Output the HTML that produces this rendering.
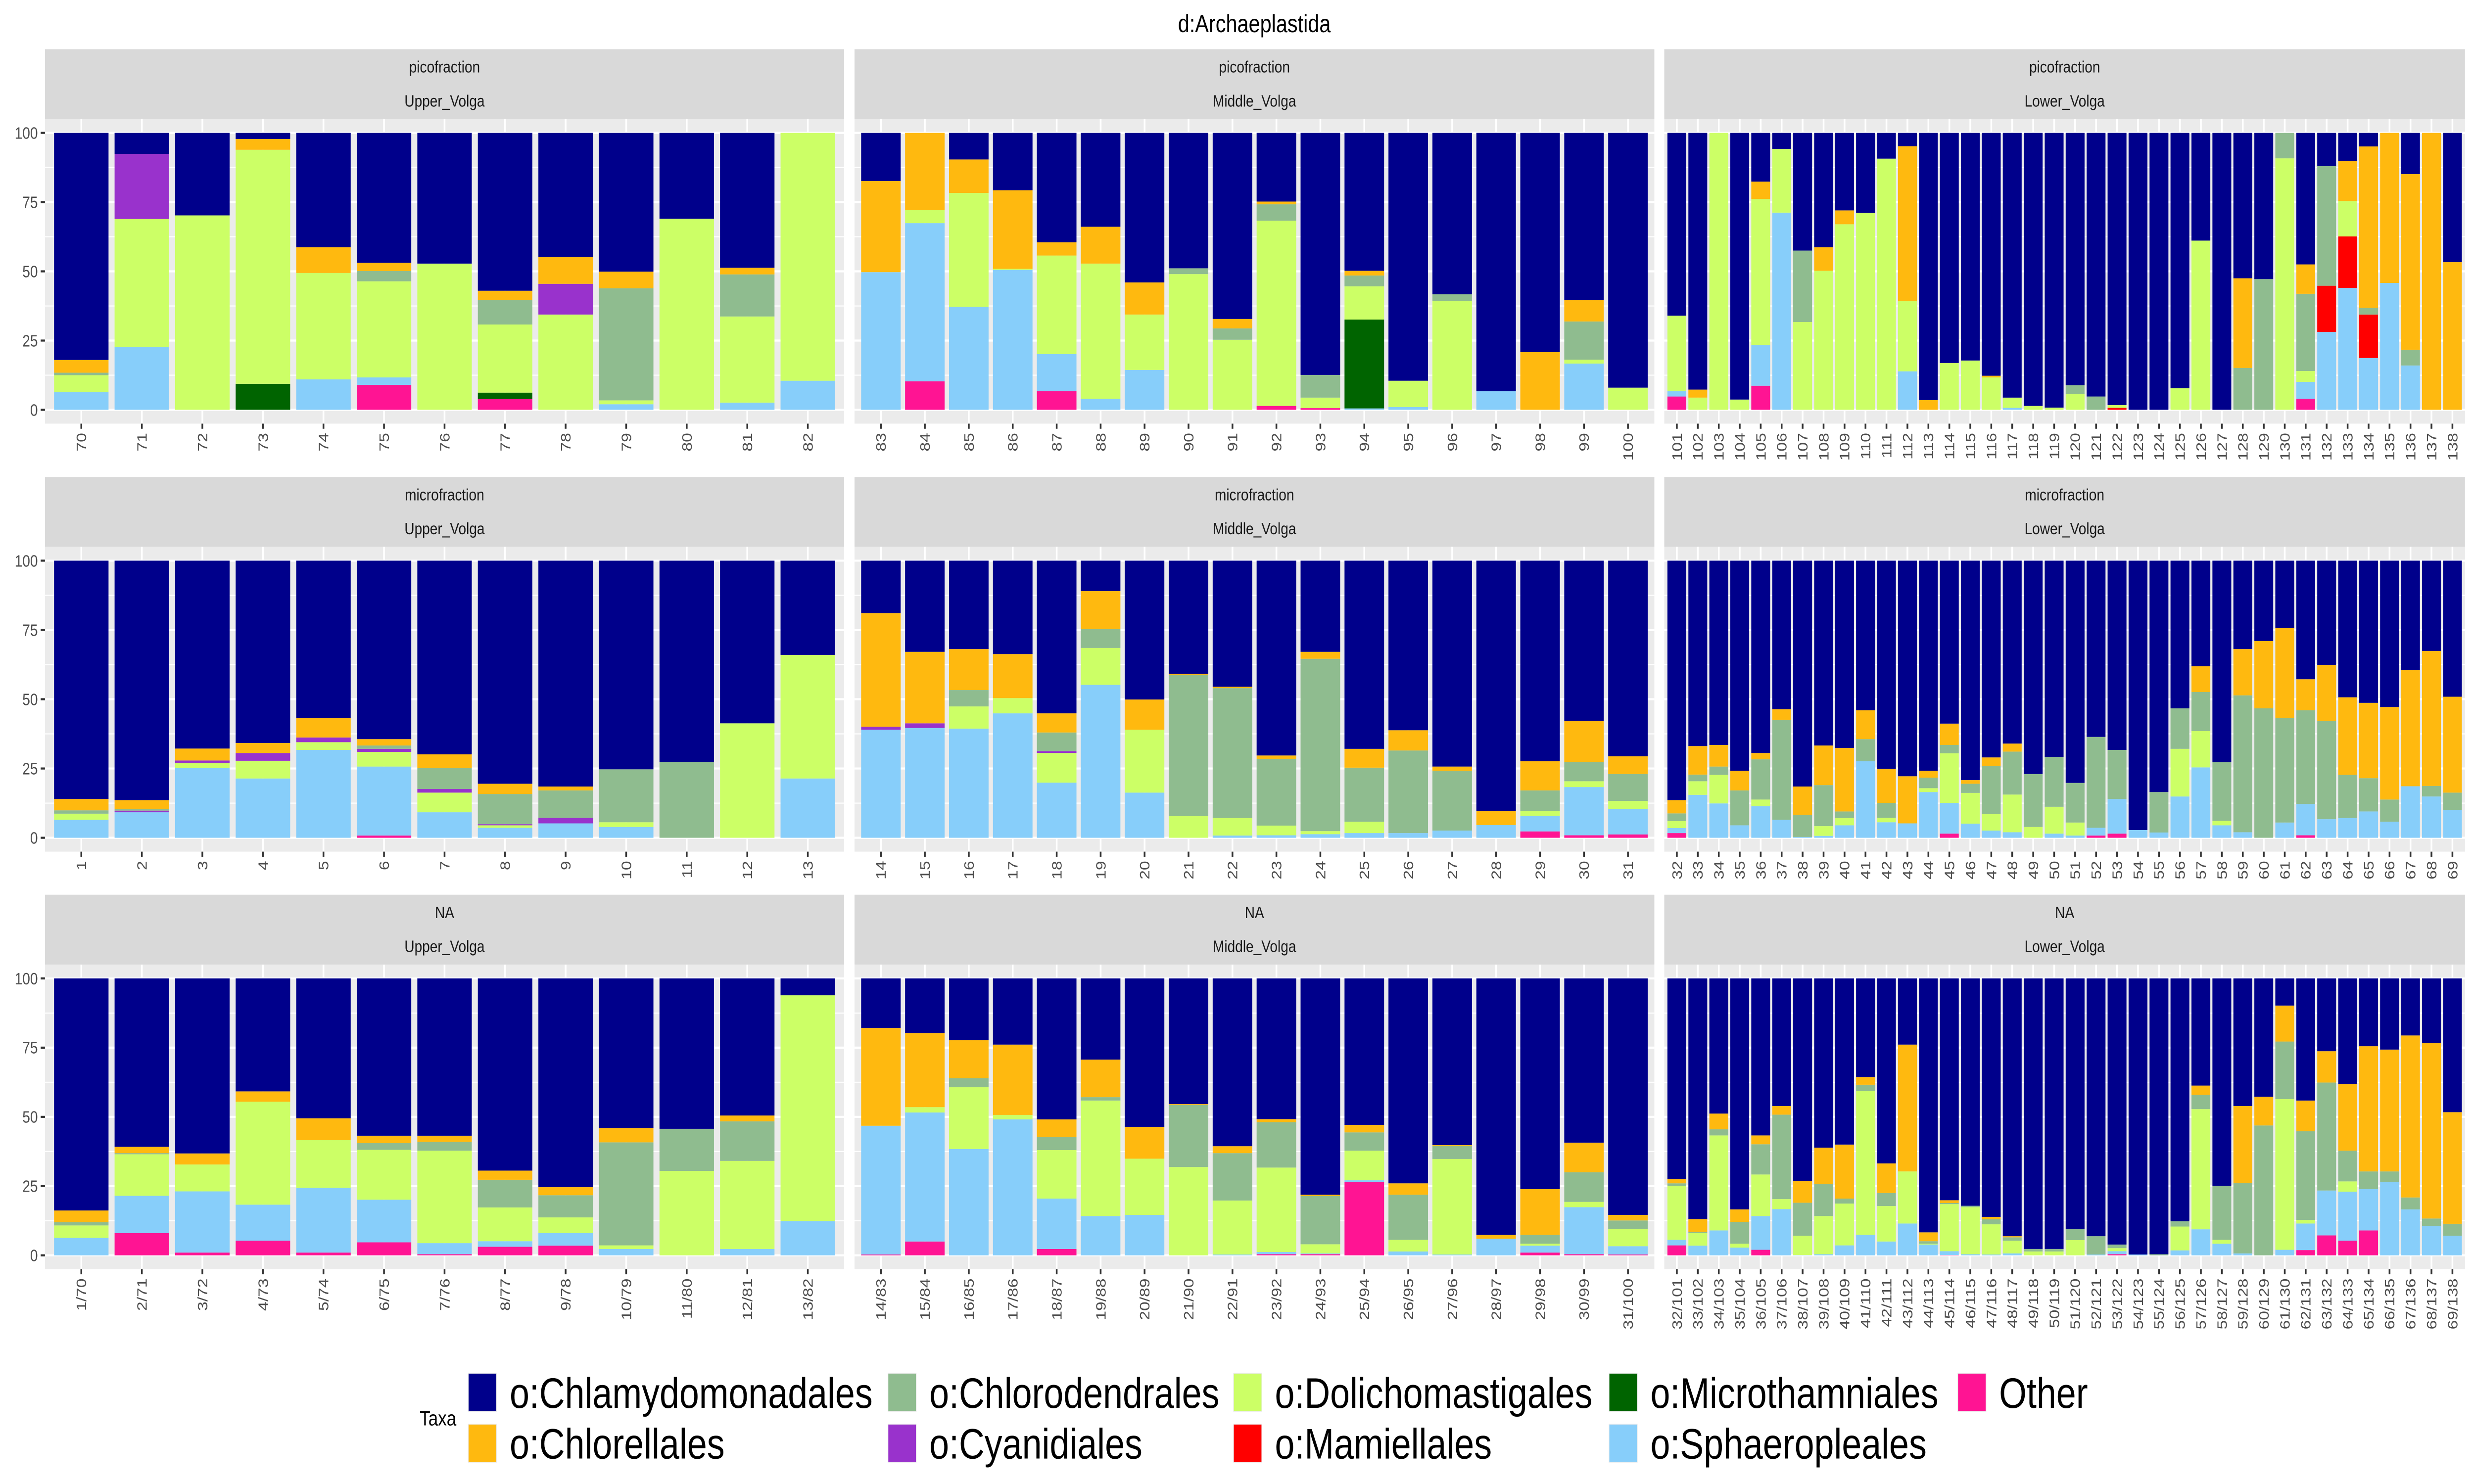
<!DOCTYPE html>
<html><head><meta charset="utf-8"><title>d:Archaeplastida</title>
<style>html,body{margin:0;padding:0;background:#fff;overflow:hidden;width:100%;height:100%}svg{display:block;width:100vw;height:100vh}</style></head>
<body>
<svg id="chart" viewBox="0 0 1568 784" preserveAspectRatio="none" xmlns="http://www.w3.org/2000/svg" font-family="'Liberation Sans', sans-serif"></svg>
<script>
// stack order bottom -> top
const seriesNames = ["Other","o:Sphaeropleales","o:Microthamniales","o:Mamiellales","o:Dolichomastigales","o:Cyanidiales","o:Chlorodendrales","o:Chlorellales","o:Chlamydomonadales"];
const seriesColors = ["#FF1493","#87CEFA","#006400","#FF0000","#CCFF66","#9932CC","#8FBC8F","#FFB90F","#00008B"];
const yTicks = [0,25,50,75,100];
const rowLabels = ["picofraction","microfraction","NA"];
const colLabels = ["Upper_Volga","Middle_Volga","Lower_Volga"];

const catPicoUpper = [70,71,72,73,74,75,76,77,78,79,80,81,82];
const catPicoMiddle = [83,84,85,86,87,88,89,90,91,92,93,94,95,96,97,98,99,100];
const catPicoLower = [101,102,103,104,105,106,107,108,109,110,111,112,113,114,115,116,117,118,119,120,121,122,123,124,125,126,127,128,129,130,131,132,133,134,135,136,137,138];
const catMicroUpper = [1,2,3,4,5,6,7,8,9,10,11,12,13];
const catMicroMiddle = [14,15,16,17,18,19,20,21,22,23,24,25,26,27,28,29,30,31];
const catMicroLower = [32,33,34,35,36,37,38,39,40,41,42,43,44,45,46,47,48,49,50,51,52,53,54,55,56,57,58,59,60,61,62,63,64,65,66,67,68,69];
const catNaUpper = ["1/70","2/71","3/72","4/73","5/74","6/75","7/76","8/77","9/78","10/79","11/80","12/81","13/82"];
const catNaMiddle = ["14/83","15/84","16/85","17/86","18/87","19/88","20/89","21/90","22/91","23/92","24/93","25/94","26/95","27/96","28/97","29/98","30/99","31/100"];
const catNaLower = ["32/101","33/102","34/103","35/104","36/105","37/106","38/107","39/108","40/109","41/110","42/111","43/112","44/113","45/114","46/115","47/116","48/117","49/118","50/119","51/120","52/121","53/122","54/123","55/124","56/125","57/126","58/127","59/128","60/129","61/130","62/131","63/132","64/133","65/134","66/135","67/136","68/137","69/138"];

// each bar: [Other, Sphaeropleales, Microthamniales, Mamiellales, Dolichomastigales, Cyanidiales, Chlorodendrales, Chlorellales, Chlamydomonadales]
const picoUpper = [
[0,6.4,0,0,6.1,0,0.9,4.6,82],[0,22.6,0,0,46.3,23.5,0,0,7.6],[0,0,0,0,70.2,0,0,0,29.8],[0,0,9.4,0,84.5,0,0,3.9,2.2],
[0,11,0,0,38.4,0,0,9.3,41.3],[9,2.7,0,0,34.7,0,3.7,3,46.9],[0,0,0,0,52.8,0,0,0,47.2],[3.9,0,2.3,0,24.6,0,8.8,3.4,57],
[0,0,0,0,34.4,11.1,0,9.7,44.8],[0,2,0,0,1.4,0,40.5,6,50.1],[0,0,0,0,69,0,0,0,31],[0,2.6,0,0,31.1,0,15.2,2.4,48.7],
[0,10.5,0,0,89.5,0,0,0,0]];
const picoMiddle = [
[0,49.7,0,0,0,0,0,32.9,17.4],[10.3,57.1,0,0,4.8,0,0,27.8,0],[0,37.2,0,0,41.1,0,0,12.1,9.6],[0,50.5,0,0,0.4,0,0,28.4,20.7],
[6.7,13.4,0,0,35.6,0,0,4.8,39.5],[0,4,0,0,48.8,0,0,13.3,33.9],[0,14.4,0,0,20,0,0,11.6,54],[0,0,0,0,49,0,2.1,0,48.9],
[0,0,0,0,25.3,0,4.1,3.4,67.2],[1.4,0,0,0,66.9,0,5.9,1,24.8],[0.6,0,0,0,3.8,0,8.2,0,87.4],[0,0.5,32.1,0,12,0,3.9,1.7,49.8],
[0,1,0,0,9.5,0,0,0,89.5],[0,0,0,0,39.2,0,2.5,0,58.3],[0,6.7,0,0,0,0,0,0,93.3],[0,0,0,0,0,0,0,20.8,79.2],
[0,16.7,0,0,1.4,0,13.8,7.7,60.4],[0,0,0,0,8,0,0,0,92]];
const picoLower = [
[4.8,1.9,0,0,27.3,0,0,0,66],[0,0,0,0,4.4,0,0,2.9,92.7],[0,0,0,0,100,0,0,0,0],[0,0,0,0,3.7,0,0,0,96.3],
[8.7,14.7,0,0,52.7,0,0,6.3,17.6],[0,71.2,0,0,23,0,0,0,5.8],[0,0,0,0,31.7,0,25.8,0,42.5],[0,0,0,0,50.2,0,0,8.5,41.3],
[0,0,0,0,67,0,0,5,28],[0,0,0,0,71.1,0,0,0,28.9],[0,0,0,0,90.7,0,0,0,9.3],[0,13.9,0,0,25.3,0,0,56,4.8],
[0,0,0,0,0,0,0,3.5,96.5],[0,0,0,0,16.9,0,0,0,83.1],[0,0,0,0,17.8,0,0,0,82.2],[0,0,0,0,11.7,0,0,0.6,87.7],
[0,0.7,0,0,3.7,0,0,0,95.6],[0,0,0,0,1.4,0,0,0,98.6],[0,0,0,0,0.8,0,0,0,99.2],[0,0,0,0,5.7,0,3.2,0,91.1],
[0,0,0,0,0,0,4.8,0,95.2],[0,0,0,0.7,1,0,0,0,98.3],[0,0,0,0,0,0,0,0,100],[0,0,0,0,0,0,0,0,100],
[0,0,0,0,7.8,0,0,0,92.2],[0,0,0,0,61.1,0,0,0,38.9],[0,0,0,0,0,0,0,0,100],[0,0,0,0,0,0,15.1,32.4,52.5],
[0,0,0,0,0,0,47.2,0,52.8],[0,0,0,0,90.8,0,9.2,0,0],[4,6.1,0,0,3.9,0,27.9,10.6,47.5],[0,28.1,0,16.7,0,0,43.2,0,12],
[0,44,0,18.6,12.8,0,0,14.5,10.1],[0,18.7,0,15.7,0,0,2.4,58.3,4.9],[0,45.8,0,0,0,0,0,54.2,0],[0,16,0,0,0,0,5.7,63.4,14.9],
[0,0,0,0,0,0,0,100,0],[0,0,0,0,0,0,0,53.3,46.7]];
const microUpper = [
[0,6.5,0,0,2.2,0,1.2,4.1,86],[0,9.2,0,0,0,0.6,0.5,3.3,86.4],[0,25.1,0,0,1.8,1,0,4.3,67.8],[0,21.4,0,0,6.4,2.8,0,3.6,65.8],
[0,31.7,0,0,2.8,1.7,0,7.1,56.7],[0.8,24.9,0,0,5.3,1.1,1.2,2.3,64.4],[0,9.2,0,0,7.1,1.3,7.5,5,69.9],[0,3.6,0,0,0.9,0.4,10.9,3.7,80.5],
[0,5.2,0,0,0,2,9.9,1.4,81.5],[0,3.9,0,0,1.7,0,19.1,0,75.3],[0,0,0,0,0,0,27.4,0,72.6],[0,0,0,0,41.3,0,0,0,58.7],
[0,21.4,0,0,44.6,0,0,0,34]];
const microMiddle = [
[0,39,0,0,0,1.1,0,41,18.9],[0,39.6,0,0,0,1.7,0,25.8,32.9],[0,39.4,0,0,8,0,5.9,14.8,31.9],[0,44.9,0,0,5.5,0,0,15.9,33.7],
[0,19.9,0,0,10.7,0.7,6.7,6.9,55.1],[0,55.2,0,0,13.3,0,6.8,13.7,11],[0,16.3,0,0,22.7,0,0,10.9,50.1],[0,0,0,0,7.8,0,51,0.4,40.8],
[0,0.8,0,0,6.3,0,46.9,0.5,45.5],[0,0.9,0,0,3.5,0,24.1,1.2,70.3],[0,1.3,0,0,1.1,0,62.2,2.5,32.9],[0,1.7,0,0,4.1,0,19.5,6.8,67.9],
[0,1.7,0,0,0,0,29.8,7.3,61.2],[0,2.6,0,0,0,0,21.6,1.5,74.3],[0,4.6,0,0,0,0,0,5.1,90.3],[2.3,5.6,0,0,1.8,0,7.4,10.5,72.4],
[0.9,17.4,0,0,2.1,0,7,14.8,57.8],[1.2,9.2,0,0,2.9,0,9.7,6.4,70.6]];
const microLower = [
[1.7,1.8,0,0,2.5,0,2.8,4.8,86.4],[0,15.5,0,0,4.9,0,2.4,10.3,66.9],[0,12.4,0,0,10.3,0,3,7.8,66.5],[0,4.5,0,0,0,0,12.6,7.1,75.8],
[0,11.4,0,0,2.4,0,14.5,2.3,69.4],[0,6.5,0,0,0,0,36.1,3.8,53.6],[0,0.3,0,0,0,0,8,10.2,81.5],[0,0.7,0,0,3.5,0,14.8,14.3,66.7],
[0,4.5,0,0,2.6,0,2.4,22.9,67.6],[0,27.6,0,0,0,0,8,10.4,54],[0,5.6,0,0,1.6,0,5.4,12.3,75.1],[0,5.2,0,0,0,0,0,17,77.8],
[0,16.5,0,0,1.4,0,3.8,2.5,75.8],[1.5,11.1,0,0,17.9,0,3,7.7,58.8],[0,5.1,0,0,11.1,0,3.3,1.3,79.2],[0,2.6,0,0,5.9,0,17.4,3.1,71],
[0,2,0,0,13.6,0,15.5,2.9,66],[0,0,0,0,3.9,0,19.1,0,77],[0,1.5,0,0,9.7,0,18,0,70.8],[0,0.8,0,0,4.7,0,14.3,0,80.2],
[0.8,2.8,0,0,0,0,32.8,0,63.6],[1.5,12.5,0,0,0,0,17.7,0,68.3],[0,2.8,0,0,0,0,0,0,97.2],[0,1.9,0,0,0,0,14.6,0,83.5],
[0,14.9,0,0,17.2,0,14.6,0,53.3],[0,25.4,0,0,13.1,0,14.1,9.3,38.1],[0,4.5,0,0,1.6,0,21.2,0,72.7],[0,2,0,0,0,0,49.4,16.7,31.9],
[0,0,0,0,0,0,46.7,24.3,29],[0,5.5,0,0,0,0,37.7,32.5,24.3],[0.9,11.3,0,0,0,0,33.8,11.2,42.8],[0,6.7,0,0,0,0,35.4,20.3,37.6],
[0,7.1,0,0,0,0,15.6,28,49.3],[0,9.5,0,0,0,0,12,27.2,51.3],[0,5.8,0,0,0,0,8,33.4,52.8],[0,18.6,0,0,0,0,0,42,39.4],
[0,14.9,0,0,0,0,3.8,48.7,32.6],[0,10.1,0,0,0,0,6.2,34.6,49.1]];
const naUpper = [
[0,6.3,0,0,4.5,0,1.2,4.2,83.8],[8,13.5,0,0,15,0,0.4,2.3,60.8],[1,22.1,0,0,9.7,0,0,4,63.2],[5.3,13,0,0,37.2,0,0,3.7,40.8],
[1,23.4,0,0,17.2,0,0,7.9,50.5],[4.7,15.4,0,0,18,0,2.4,2.7,56.8],[0.4,4,0,0,33.4,0,3.2,2.2,56.8],[3.1,2,0,0,12.2,0,10,3.3,69.4],
[3.5,4.5,0,0,5.7,0,8,2.9,75.4],[0,2.3,0,0,1.3,0,37.2,5.2,54],[0,0,0,0,30.5,0,15.2,0,54.3],[0,2.3,0,0,31.8,0,14.3,2.1,49.5],
[0,12.4,0,0,81.5,0,0,0,6.1]];
const naMiddle = [
[0.3,46.5,0,0,0,0,0,35.3,17.9],[5,46.6,0,0,1.9,0,0,26.8,19.7],[0,38.4,0,0,22.3,0,3.3,13.7,22.3],[0,49.1,0,0,1.6,0,0,25.4,23.9],
[2.3,18.2,0,0,17.5,0,4.8,6.3,50.9],[0,14.2,0,0,41.7,0,1.2,13.6,29.3],[0,14.6,0,0,20.3,0,0,11.5,53.6],[0,0,0,0,31.9,0,22.4,0.3,45.4],
[0,0.3,0,0,19.5,0,17.1,2.5,60.6],[0.4,0.8,0,0,30.5,0,16.4,1.1,50.8],[0.4,0.3,0,0,3.3,0,17.4,0.5,78.1],[26.4,0.7,0,0,10.7,0,6.6,2.7,52.9],
[0,1.4,0,0,4.2,0,16.3,4.1,74],[0,0.3,0,0,34.5,0,4.8,0.2,60.2],[0,6,0,0,0,0,0,1.4,92.6],[1,2.5,0,0,0.7,0,3.2,16.5,76.1],
[0.4,17,0,0,1.9,0,10.7,10.7,59.3],[0.3,3,0,0,6.3,0,3,2,85.4]];
const naLower = [
[3.6,2,0,0,19.5,0,0.9,1.6,72.4],[0,3.5,0,0,4.5,0,0.5,4.6,86.9],[0,9,0,0,34.3,0,2.2,5.7,48.8],[0,2.8,0,0,1.4,0,7.9,4.5,83.4],
[2,12.2,0,0,15,0,10.9,3.2,56.7],[0,16.7,0,0,3.6,0,30.5,3.1,46.1],[0,0.1,0,0,7,0,11.9,7.9,73.1],[0,0.4,0,0,13.8,0,11.6,13.1,61.1],
[0,3.6,0,0,15.1,0,1.8,19.5,60],[0,7.4,0,0,52,0,2.2,2.8,35.6],[0,5,0,0,12.8,0,4.7,10.7,66.8],[0,11.5,0,0,18.8,0,0,45.8,23.9],
[0,3.9,0,0,0.3,0,0.9,3.2,91.7],[0.1,1.4,0,0,17,0,0.4,1,80.1],[0,0.4,0,0,17,0,0.5,0,82.1],[0,0.3,0,0,10.9,0,1.8,0.9,86.1],
[0,0.7,0,0,4.6,0,1.2,0.4,93.1],[0,0,0,0,1.4,0,0.9,0,97.7],[0,0,0,0,1.4,0,0.9,0,97.7],[0,0,0,0,5.5,0,4.1,0,90.4],
[0,0.3,0,0,0,0,6.6,0,93.1],[0.4,1.1,0,0,1.1,0,1.3,0,96.1],[0,0.3,0,0,0,0,0,0,99.7],[0,0,0,0,0,0,0.4,0,99.6],
[0,1.8,0,0,8.6,0,1.9,0,87.7],[0,9.4,0,0,43.4,0,5.2,3.3,38.7],[0,4.2,0,0,1.4,0,19.5,0,74.9],[0,0.7,0,0,0,0,25.5,27.7,46.1],
[0,0,0,0,0,0,46.9,10.4,42.7],[0,2,0,0,54.4,0,20.8,13,9.8],[1.9,9.6,0,0,1.3,0,32,11.1,44.1],[7.2,16.2,0,0,0,0,39,11.3,26.3],
[5.3,17.7,0,0,3.7,0,11.1,24.1,38.1],[9,14.9,0,0,0,0,6.4,45.2,24.5],[0,26.4,0,0,0,0,3.9,44,25.7],[0,16.6,0,0,0,0,4.3,58.5,20.6],
[0,10.6,0,0,0,0,2.7,63.3,23.4],[0,7.1,0,0,0,0,4.3,40.3,48.3]];

const panelCats = [[catPicoUpper,catPicoMiddle,catPicoLower],[catMicroUpper,catMicroMiddle,catMicroLower],[catNaUpper,catNaMiddle,catNaLower]];
const panelData = [[picoUpper,picoMiddle,picoLower],[microUpper,microMiddle,microLower],[naUpper,naMiddle,naLower]];

const NS = "http://www.w3.org/2000/svg";
const svg = document.getElementById('chart');
function mk(tag, attrs, parent, text){
  const e = document.createElementNS(NS, tag);
  for (const k in attrs) e.setAttribute(k, attrs[k]);
  if (text !== undefined) e.textContent = text;
  (parent || svg).appendChild(e);
  return e;
}
const colX = [[28.5,535],[541.6,1048.5],[1054.8,1562.3]];
const rowY = [{y100:70.2,y0:216.5},{y100:296.2,y0:442.6},{y100:516.9,y0:663.2}];

mk('rect',{x:0,y:0,width:1568,height:784,fill:'#FFFFFF'});
const title = mk('text',{x:795,y:17,'text-anchor':'middle','font-size':13,fill:'#000'},svg,'d:Archaeplastida');



for (let r=0;r<3;r++){
  const {y100,y0} = rowY[r];
  const span = y0 - y100;
  const pTop = y100 - span*0.05, pBot = y0 + span*0.05;
  const yScale = v => y0 - v/100*span;
  for (let c=0;c<3;c++){
    const [xL,xR] = colX[c];
    const cats = panelCats[r][c];
    const data = panelData[r][c];
    const n = cats.length;
    const slot = (xR-xL)/(n+0.2);
    const xScale = i => xL + (0.6+i)*slot;
    const g = mk('g',{});
    
    
    const strip = mk('rect',{x:xL,y:pTop-36.9,width:xR-xL,height:36.9,fill:'#D9D9D9'},g);
    
    
    const s1 = mk('text',{x:(xL+xR)/2,y:pTop-24.6,'text-anchor':'middle','font-size':8.8,fill:'#1A1A1A'},g,rowLabels[r]);
    
    
    const s2 = mk('text',{x:(xL+xR)/2,y:pTop-6.6,'text-anchor':'middle','font-size':8.8,fill:'#1A1A1A'},g,colLabels[c]);
    
    
    const bg = mk('rect',{x:xL,y:pTop,width:xR-xL,height:pBot-pTop,fill:'#EBEBEB'},g);
    
    
    for (let k=0;k<yTicks.length-1;k++){
      const yy = yScale((yTicks[k]+yTicks[k+1])/2);
      mk('line',{x1:xL,x2:xR,y1:yy,y2:yy,stroke:'#FFFFFF','stroke-width':0.55},g);
    }
    yTicks.forEach(t=>{
      const yy = yScale(t);
      const gl = mk('line',{x1:xL,x2:xR,y1:yy,y2:yy,stroke:'#FFFFFF','stroke-width':1.1},g);
      
      
    });
    cats.forEach((cat,i)=>{
      const xx = xScale(i);
      mk('line',{x1:xx,x2:xx,y1:pTop,y2:pBot,stroke:'#FFFFFF','stroke-width':1.1},g);
    });
    const bw = slot*0.9;
    data.forEach((bar,i)=>{
      const bg2 = mk('g',{},g);
      
      
      let cum = 0;
      bar.forEach((v,s)=>{
        if (v<=0) return;
        const ya = yScale(cum), yb = yScale(cum+v);
        cum += v;
        const seg = mk('rect',{x:xScale(i)-bw/2,y:yb,width:bw,height:ya-yb,fill:seriesColors[s]},bg2);
        
        
      });
    });
    cats.forEach((cat,i)=>{
      const xx = xScale(i);
      mk('line',{x1:xx,x2:xx,y1:pBot,y2:pBot+2.7,stroke:'#333333','stroke-width':1.1},g);
      const t = mk('text',{x:0,y:0,transform:`translate(${xx+3.1},${pBot+4.9}) rotate(-90)`,'text-anchor':'end','font-size':8.8,fill:'#4D4D4D'},g,String(cat));
      
      
    });
    if (c===0){
      yTicks.forEach(tv=>{
        const yy = yScale(tv);
        mk('line',{x1:xL-2.7,x2:xL,y1:yy,y2:yy,stroke:'#333333','stroke-width':1.1},g);
        const t = mk('text',{x:xL-4.5,y:yy+3.1,'text-anchor':'end','font-size':8.8,fill:'#4D4D4D'},g,String(tv));
        
        
      });
    }
  }
}

const legendOrder = [8,7,6,5,4,3,2,1,0];
const legendX = [297,563,782,1020,1241];
const legendRowY = [725.7,752.6];
const lg = mk('g',{});


const lt = mk('text',{x:266,y:753,'font-size':11,fill:'#000'},lg,'Taxa');


legendOrder.forEach((s,k)=>{
  const col = Math.floor(k/2), row = k%2;
  const x = legendX[col], y = legendRowY[row];
  const eg = mk('g',{},lg);
  
  
  mk('rect',{x:x-0.4,y:y-0.4,width:18.3,height:20.5,fill:'#EBEBEB'},eg);
  mk('rect',{x:x,y:y,width:17.5,height:19.7,fill:seriesColors[s]},eg);
  mk('text',{x:x+26,y:y+18,'font-size':22.5,fill:'#000'},eg,seriesNames[s]);
});
</script>
</body></html>
